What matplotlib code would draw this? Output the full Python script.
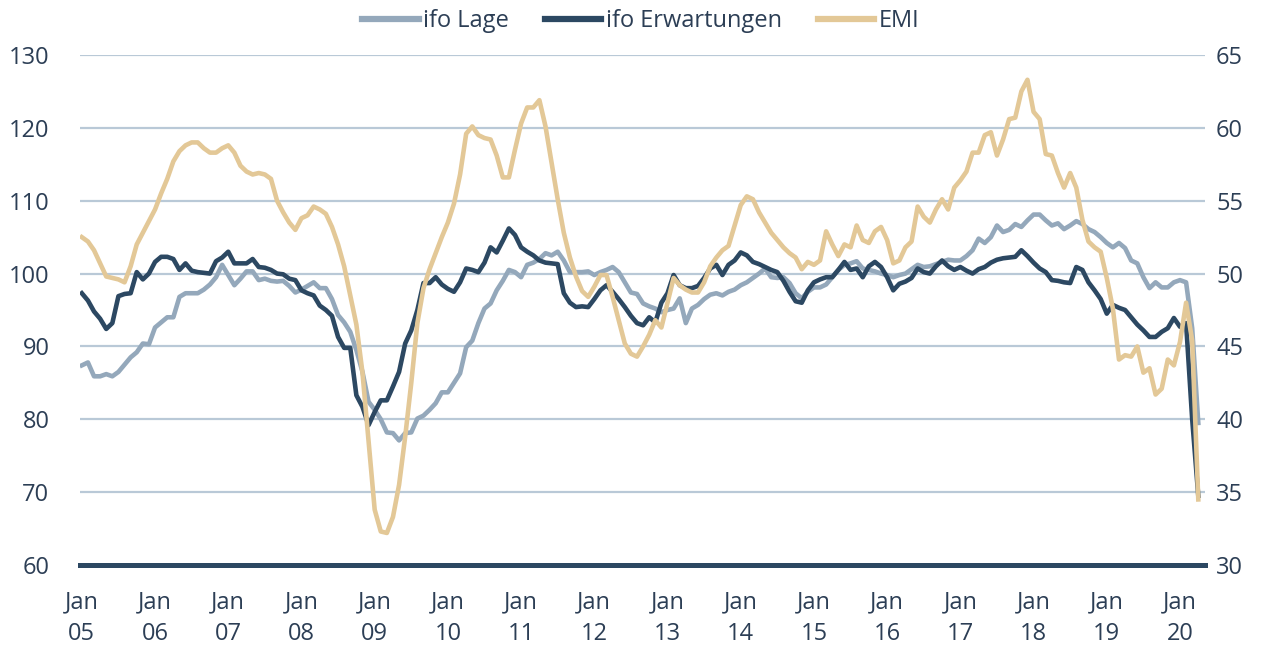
import numpy as np
import matplotlib
matplotlib.use("Agg")
import matplotlib.pyplot as plt

plt.rcParams['font.family'] = ['Open Sans', 'DejaVu Sans']

years = ["05", "06", "07", "08", "09", "10", "11", "12", "13", "14",
         "15", "16", "17", "18", "19", "20"]
tick_labels = [f"Jan\n{y}" for y in years]

ifo_lage = [
    87.4, 87.8, 85.9, 85.9, 86.2, 85.9, 86.5, 87.5, 88.5, 89.2, 90.4, 90.3,
    92.6, 93.3, 94.0, 94.0, 96.8, 97.3, 97.3, 97.3, 97.8, 98.5, 99.5, 101.2,
    99.8, 98.4, 99.3, 100.3, 100.3, 99.1, 99.3, 99.0, 98.9, 99.0, 98.3, 97.4,
    97.8, 98.3, 98.8, 98.0, 98.0, 96.5, 94.3, 93.3, 92.0, 89.5, 86.5, 82.4,
    81.3, 80.0, 78.2, 78.1, 77.1, 78.1, 78.2, 80.1, 80.5, 81.3, 82.2, 83.7,
    83.7, 85.0, 86.3, 89.9, 90.8, 93.2, 95.2, 95.9, 97.7, 99.0, 100.5, 100.2,
    99.5, 101.2, 101.5, 102.0, 102.8, 102.5, 103.0, 101.8, 100.2, 100.2, 100.2, 100.3,
    99.8, 100.2, 100.5, 100.9, 100.2, 98.8, 97.4, 97.2, 95.9, 95.5, 95.2, 94.7,
    95.0, 95.2, 96.6, 93.2, 95.2, 95.7, 96.5, 97.1, 97.3, 97.0, 97.5, 97.8,
    98.4, 98.8, 99.4, 100.0, 100.7, 99.5, 99.4, 99.5, 98.7, 97.3, 96.6, 97.5,
    98.1, 98.1, 98.5, 99.5, 100.5, 101.2, 101.4, 101.7, 100.7, 100.5, 100.3, 100.0,
    99.8, 99.5, 99.8, 100.0, 100.6, 101.2, 100.9, 101.0, 101.3, 101.6, 101.9, 101.8,
    101.8, 102.4, 103.2, 104.8, 104.2, 105.0, 106.6, 105.7, 106.0, 106.8, 106.4, 107.3,
    108.1, 108.1, 107.3, 106.6, 106.9, 106.1, 106.6, 107.2, 106.8, 106.1, 105.7, 105.0,
    104.2, 103.6, 104.2, 103.5, 101.8, 101.4, 99.5, 98.0, 98.8, 98.1, 98.1, 98.8,
    99.1, 98.8, 92.5, 79.5,
]

ifo_erwartungen = [
    97.3, 96.3, 94.8, 93.8, 92.4, 93.2, 96.9, 97.2, 97.3, 100.2, 99.2, 100.0,
    101.6, 102.3, 102.3, 102.0, 100.5, 101.4, 100.4, 100.2, 100.1, 100.0, 101.7, 102.2,
    103.0, 101.4, 101.4, 101.4, 102.0, 100.9, 100.8, 100.5, 100.0, 99.9, 99.3, 99.1,
    97.7, 97.3, 97.0, 95.6, 95.0, 94.2, 91.3, 89.8, 89.8, 83.3, 81.7, 79.2,
    81.0, 82.6, 82.6, 84.5, 86.5, 90.4, 92.2, 95.0, 98.7, 98.7, 99.5, 98.5,
    97.9, 97.5, 98.8, 100.7, 100.5, 100.2, 101.5, 103.6, 102.9, 104.5, 106.2, 105.3,
    103.6, 103.0, 102.5, 101.8, 101.5, 101.4, 101.3, 97.3, 96.0, 95.4, 95.5, 95.4,
    96.5, 97.7, 98.4, 97.5, 96.5, 95.4, 94.2, 93.2, 92.9, 94.0, 93.3, 96.0,
    97.3, 99.8, 98.4, 98.0, 98.0, 98.3, 99.4, 100.7, 101.2, 99.8, 101.2, 101.8,
    102.9, 102.5, 101.6, 101.3, 100.9, 100.5, 100.2, 99.0, 97.5, 96.2, 96.0, 97.7,
    98.8, 99.2, 99.5, 99.5, 100.5, 101.6, 100.5, 100.7, 99.5, 101.0, 101.6, 100.9,
    99.5, 97.7, 98.6, 98.9, 99.4, 100.7, 100.2, 100.0, 101.0, 101.8, 101.0, 100.5,
    100.9, 100.4, 100.0, 100.6, 100.9, 101.5, 101.9, 102.1, 102.2, 102.3, 103.2, 102.4,
    101.5, 100.7, 100.2, 99.1, 99.0, 98.8, 98.7, 100.9, 100.5, 98.8, 97.7, 96.5,
    94.5, 95.7, 95.3, 95.0, 94.0, 93.0, 92.2, 91.3, 91.3, 92.0, 92.5, 93.9,
    92.7, 93.2, 80.0, 69.5,
]

emi = [
    52.5, 52.2, 51.6, 50.7, 49.8, 49.7, 49.6, 49.4, 50.5, 52.0, 52.8, 53.6,
    54.4, 55.5, 56.5, 57.7, 58.4, 58.8, 59.0, 59.0, 58.6, 58.3, 58.3, 58.6,
    58.8, 58.3, 57.4, 57.0, 56.8, 56.9, 56.8, 56.5, 55.0, 54.2, 53.5, 53.0,
    53.8, 54.0, 54.6, 54.4, 54.1, 53.2, 52.0, 50.5, 48.5, 46.5, 43.2, 38.5,
    33.8, 32.3, 32.2, 33.3, 35.5, 38.8, 42.5, 46.6, 49.0, 50.3, 51.4, 52.5,
    53.5, 54.8, 56.8, 59.6, 60.1, 59.5, 59.3, 59.2, 58.1, 56.6, 56.6, 58.5,
    60.3, 61.4, 61.4, 61.9, 60.1, 57.6, 55.1, 52.8, 51.1, 49.8, 48.8, 48.4,
    49.1, 49.9, 49.9, 48.4, 46.8, 45.2, 44.5, 44.3, 45.0, 45.8, 46.8, 46.3,
    48.0, 49.7, 49.2, 48.9, 48.7, 48.7, 49.4, 50.5, 51.1, 51.6, 51.9, 53.3,
    54.7, 55.3, 55.1, 54.2, 53.5, 52.8, 52.3, 51.8, 51.4, 51.1, 50.3, 50.8,
    50.6, 50.9, 52.9, 52.0, 51.2, 52.0, 51.8, 53.3, 52.3, 52.1, 52.9, 53.2,
    52.3, 50.7, 50.9, 51.8, 52.2, 54.6, 53.9, 53.5, 54.4, 55.1, 54.4, 55.9,
    56.4, 57.0, 58.3, 58.3, 59.5, 59.7, 58.1, 59.2, 60.6, 60.7, 62.5, 63.3,
    61.1, 60.6, 58.2, 58.1, 56.9, 55.9, 56.9, 55.9, 53.7, 52.2, 51.8, 51.5,
    49.7, 47.6, 44.1, 44.4, 44.3, 45.0, 43.2, 43.5, 41.7, 42.1, 44.1, 43.7,
    45.3, 48.0, 45.4, 34.5,
]

C_LAGE = "#94a8bb"
C_ERW = "#2c4862"
C_EMI = "#e3c897"
C_GRID = "#b9c9d7"
C_TEXT = "#2c3e55"
FS = 17

x = np.arange(len(ifo_lage))

fig = plt.figure(figsize=(12.69, 6.5), dpi=100)
ax = fig.add_axes([80 / 1269, 1 - 565 / 650, (1205 - 80) / 1269, (565 - 55) / 650])
ax2 = ax.twinx()

l1, = ax.plot(x, ifo_lage, color=C_LAGE, lw=3.3, solid_joinstyle="round", label="ifo Lage", zorder=3)
l2, = ax.plot(x, ifo_erwartungen, color=C_ERW, lw=3.3, solid_joinstyle="round", label="ifo Erwartungen", zorder=4)
l3, = ax2.plot(x, emi, color=C_EMI, lw=3.3, solid_joinstyle="round", label="EMI", zorder=5)

ax.set_xlim(-0.3, 184.1)
ax.set_ylim(60, 130)
ax2.set_ylim(30, 65)
ax.set_yticks(np.arange(60, 131, 10))
ax2.set_yticks(np.arange(30, 66, 5))

for yv in range(70, 131, 10):
    ax.axhline(yv, color=C_GRID, lw=1.6, zorder=1)

for a in (ax, ax2):
    for s in a.spines.values():
        s.set_visible(False)
ax.spines["bottom"].set_visible(True)
ax.spines["bottom"].set_color(C_ERW)
ax.spines["bottom"].set_linewidth(3.6)
ax.spines["bottom"].set_zorder(6)

ax.set_xticks(np.arange(0, len(years) * 12, 12))
ax.set_xticklabels(tick_labels)
for t in ax.get_xticklabels():
    t.set_linespacing(1.45)

ax.tick_params(axis="x", length=0, pad=18, labelsize=FS, labelcolor=C_TEXT)
ax.tick_params(axis="y", length=0, pad=22, labelsize=FS, labelcolor=C_TEXT)
ax2.tick_params(axis="y", length=0, pad=8, labelsize=FS, labelcolor=C_TEXT)

leg = fig.legend(handles=[l1, l2, l3], loc="center", bbox_to_anchor=(0.505, 0.968),
                 ncol=3, frameon=False, fontsize=FS, handlelength=2.4,
                 handletextpad=0.2, columnspacing=1.5)
for t in leg.get_texts():
    t.set_color(C_TEXT)
for h in leg.legend_handles:
    h.set_linewidth(4.5)

fig.savefig("out.png", dpi=100)
